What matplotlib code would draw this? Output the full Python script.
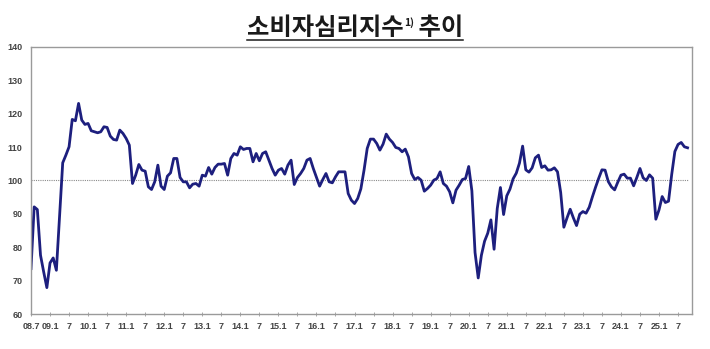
#!/usr/bin/env python3

# Consumer sentiment index (CCSI) monthly trend, 2008.7 - 2025.10

import numpy as np
import matplotlib
matplotlib.use('Agg')
import matplotlib.pyplot as plt
from matplotlib.lines import Line2D

# monthly values starting at 2008.7
ccsi = [
  73.6, 92.1, 91.3, 77.6, 72.6, 67.9,                          # 08.7 - 08.12
  75.3, 76.8, 73.1, 89.0, 105.3, 107.6, 110.1, 118.3, 117.9, 123.1, 118.1, 116.8,  # 09
  117.1, 114.9, 114.6, 114.3, 114.6, 116.1, 115.9, 113.3, 112.3, 112.1, 115.1, 114.1,  # 10
  112.6, 110.6, 99.1, 101.6, 104.8, 103.1, 102.8, 98.1, 97.3, 99.6, 104.6, 98.3,  # 11
  97.3, 101.3, 102.3, 106.6, 106.6, 100.9, 99.6, 99.6, 97.8, 98.9, 99.1, 98.3,  # 12
  101.6, 101.3, 103.9, 101.9, 103.9, 104.9, 104.9, 105.1, 101.6, 106.6, 108.1, 107.6,  # 13
  110.1, 109.3, 109.6, 109.6, 105.6, 108.1, 105.9, 108.1, 108.6, 106.1, 103.6, 101.6,  # 14
  103.1, 103.6, 101.9, 104.6, 106.1, 98.8, 100.9, 102.1, 103.6, 106.1, 106.6, 103.6,  # 15
  100.9, 98.3, 100.3, 102.1, 99.6, 99.3, 101.1, 102.6, 102.6, 102.6, 96.1, 94.1,  # 16
  93.1, 94.6, 97.5, 103.1, 109.6, 112.4, 112.4, 111.1, 109.1, 110.9, 113.9, 112.4,  # 17
  111.4, 109.9, 109.6, 108.6, 109.4, 107.1, 102.1, 100.3, 100.9, 100.1, 96.8, 97.6,  # 18
  98.6, 100.1, 100.6, 102.6, 99.1, 98.3, 96.6, 93.3, 97.1, 98.6, 100.3, 100.6,  # 19
  104.2, 96.9, 78.4, 70.8, 77.6, 81.8, 84.2, 88.2, 79.4, 91.6, 97.9, 89.8,  # 20
  95.4, 97.4, 100.5, 102.2, 105.2, 110.3, 103.2, 102.5, 103.8, 106.8, 107.6, 103.9,  # 21
  104.4, 103.1, 103.2, 103.8, 102.6, 96.4, 86.0, 88.8, 91.4, 88.8, 86.5, 89.9,  # 22
  90.7, 90.2, 92.0, 95.1, 98.0, 100.7, 103.2, 103.1, 99.7, 98.1, 97.2, 99.5,  # 23
  101.6, 101.9, 100.7, 100.7, 98.4, 100.9, 103.6, 100.8, 100.0, 101.7, 100.7, 88.4,  # 24
  91.2, 95.2, 93.4, 93.8, 101.8, 108.7, 110.8, 111.4, 110.1, 109.8,  # 25.1 - 25.10
]
start_year  = 2008
start_month = 7
baseline    = 100
y_ticks     = [60, 70, 80, 90, 100, 110, 120, 130, 140]

title_main = '소비자심리지수'
title_sup  = '1)'
title_tail = ' 추이'

line_color = '#1d1f7e'
frame_color = '#9a9a9a'


def make_xticks(n):
  # one tick every 6 months, january ticks get 'yy.1', july ticks just '7'
  pos, lab = [], []
  for m in range(0, n, 6):
    year  = start_year + (start_month - 1 + m) // 12
    month = (start_month - 1 + m) % 12 + 1
    if m == 0 or month == 1:
      lab.append(f'{year % 100:02d}.{month}')
    else:
      lab.append(f'{month}')
    pos.append(m)
  return pos, lab


def main():
  W, H = 710, 349
  fig = plt.figure(figsize=(W / 100, H / 100), dpi=100)
  ax = fig.add_axes([31 / W, 1 - 314 / H, 661 / W, 267 / H])

  x = np.arange(len(ccsi))
  ax.hlines(baseline, x[0], x[-1], colors='#8a8a8a', linestyles=(0, (1, 1)), lw=0.8, zorder=1)
  ax.plot(x, ccsi, color=line_color, lw=2.0, solid_joinstyle='round', zorder=2)

  ax.set_xlim(0, 208.4)
  ax.set_ylim(y_ticks[0], y_ticks[-1])
  ax.set_yticks(y_ticks)
  pos, lab = make_xticks(len(ccsi))
  ax.set_xticks(pos)
  ax.set_xticklabels(lab)

  for t in ax.get_xticklabels() + ax.get_yticklabels():
    t.set_fontfamily('Liberation Sans')
    t.set_fontsize(6.5)
    t.set_fontweight('bold')
    t.set_color('#444444')
  ax.tick_params(axis='y', length=0, pad=6)
  ax.tick_params(axis='x', direction='inout', length=3, width=0.6, color=frame_color, pad=4)

  for s in ax.spines.values():
    s.set_color(frame_color)
    s.set_linewidth(1.0)

  # title in three pieces: main text, superscript, tail, all underlined
  renderer = fig.canvas.get_renderer()
  tfont = dict(family=['Noto Sans CJK KR', 'DejaVu Sans'], weight='bold', color='#1a1a1a')
  base_y = 1 - 35 / H
  t1 = fig.text(0, base_y, title_main, fontsize=17.5, va='baseline', ha='left', **tfont)
  t2 = fig.text(0, base_y + 9 / H, title_sup, fontsize=7.5, va='baseline', ha='left', **tfont)
  t3 = fig.text(0, base_y, title_tail, fontsize=17.5, va='baseline', ha='left', **tfont)
  w1 = t1.get_window_extent(renderer).width / W
  w2 = t2.get_window_extent(renderer).width / W
  w3 = t3.get_window_extent(renderer).width / W
  x0 = 0.5 - (w1 + w2 + w3) / 2
  t1.set_x(x0)
  t2.set_x(x0 + w1 + 1 / W)
  t3.set_x(x0 + w1 + w2)
  uy = 1 - 39.5 / H
  fig.add_artist(Line2D([x0, x0 + w1 + w2 + w3], [uy, uy], color='#1a1a1a', lw=1.1,
                        transform=fig.transFigure))

  fig.savefig('out.png', dpi=100)


if __name__ == '__main__':
  main()
